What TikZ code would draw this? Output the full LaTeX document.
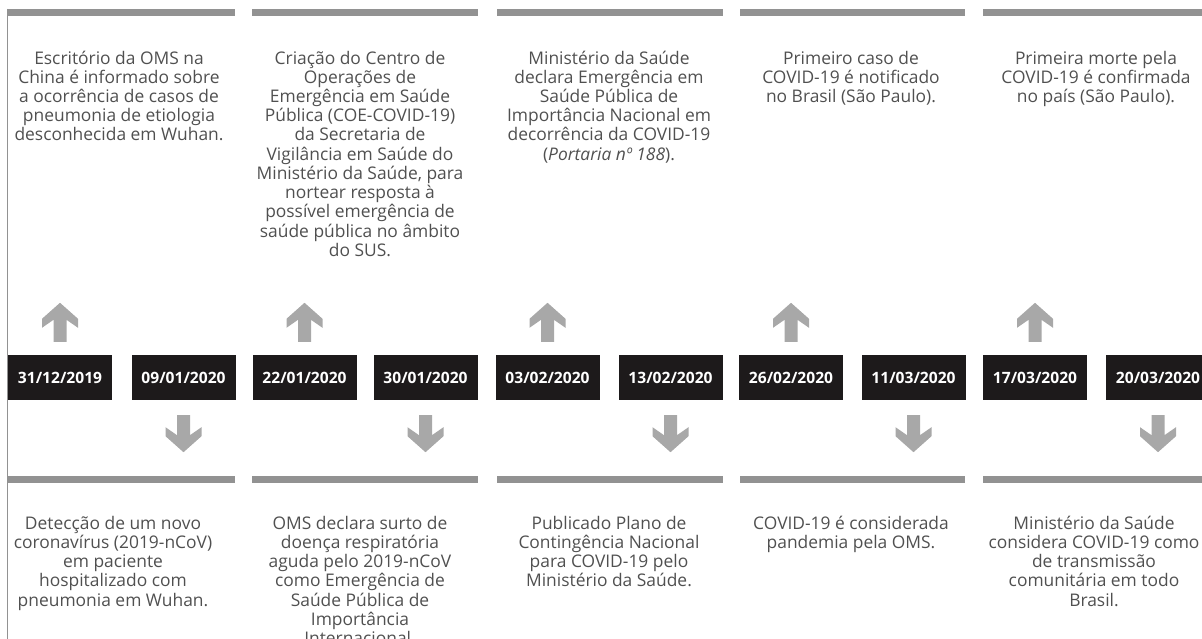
\documentclass[tikz,border=0pt]{standalone}
\usepackage{fontspec}
\setmainfont{Open Sans}

\definecolor{boxblack}{RGB}{29,26,27}
\definecolor{bargray}{RGB}{146,146,146}
\definecolor{arrgray}{RGB}{168,168,168}
\definecolor{txtgray}{RGB}{80,80,80}

\newcommand{\fstrut}{\rule{0pt}{14pt}}

\tikzset{
  datebox/.style={fill=boxblack, text=white, minimum width=104pt, minimum height=45pt, inner sep=0pt, font=\fontsize{15.6}{18}\selectfont\bfseries},
  evtext/.style={align=center, text=txtgray, inner sep=0pt, anchor=north, font=\fontsize{17.4}{19.2}\selectfont},
  bar/.style={fill=bargray},
  uparr/.pic={\fill[arrgray] (0,0) -- (18,16) -- (18,25) -- (6.5,17) -- (6.5,39) -- (-6.5,39) -- (-6.5,17) -- (-18,25) -- (-18,16) -- cycle;},
  dnarr/.pic={\fill[arrgray] (0,0) -- (18,-16) -- (18,-25) -- (6.5,-17) -- (6.5,-37) -- (-6.5,-37) -- (-6.5,-17) -- (-18,-25) -- (-18,-16) -- cycle;}
}

\begin{document}
\begin{tikzpicture}[x=1pt, y=-1pt]
\useasboundingbox (0,0) rectangle (1202,639);
\clip (0,0) rectangle (1202,639);

% frame
\draw[bargray, line width=1.5pt] (7.5,9) -- (7.5,639);
\fill[bar] (7,9) rectangle (235,16);
\fill[bar] (252,9) rectangle (478,16);
\fill[bar] (497,9) rectangle (723,16);
\fill[bar] (740,9) rectangle (965,16);
\fill[bar] (983,9) rectangle (1202,16);

\fill[bar] (7,476) rectangle (235,483);
\fill[bar] (252,476) rectangle (478,483);
\fill[bar] (497,476) rectangle (723,483);
\fill[bar] (740,476) rectangle (965,483);
\fill[bar] (983,476) rectangle (1202,483);

% dates
\node[datebox] (d1) at (60,377.5) {31/12/2019};
\node[datebox] (d2) at (183.5,377.5) {09/01/2020};
\node[datebox] (d3) at (304.5,377.5) {22/01/2020};
\node[datebox] (d4) at (425.5,377.5) {30/01/2020};
\node[datebox] (d5) at (547.5,377.5) {03/02/2020};
\node[datebox] (d6) at (670.5,377.5) {13/02/2020};
\node[datebox] (d7) at (791,377.5) {26/02/2020};
\node[datebox] (d8) at (913.5,377.5) {11/03/2020};
\node[datebox] (d9) at (1035,377.5) {17/03/2020};
\node[datebox] (d10) at (1158,377.5) {20/03/2020};

% arrows
\pic at ([yshift=52pt]d1.north) {uparr};
\pic at ([yshift=52pt]d3.north) {uparr};
\pic at ([yshift=52pt]d5.north) {uparr};
\pic at ([yshift=52pt]d7.north) {uparr};
\pic at ([yshift=52pt]d9.north) {uparr};
\pic at ([yshift=-52pt]d2.south) {dnarr};
\pic at ([yshift=-52pt]d4.south) {dnarr};
\pic at ([yshift=-52pt]d6.south) {dnarr};
\pic at ([yshift=-52pt]d8.south) {dnarr};
\pic at ([yshift=-52pt]d10.south) {dnarr};

% upper texts
\node[evtext] (t1) at (119,50) {\fstrut Escritório da OMS na\\China é informado sobre\\a ocorrência de casos de\\pneumonia de etiologia\\desconhecida em Wuhan.};
\node[evtext] (t3) at (360,50) {\fstrut Criação do Centro de\\Operações de\\Emergência em Saúde\\Pública (COE-COVID-19)\\da Secretaria de\\Vigilância em Saúde do\\Ministério da Saúde, para\\nortear resposta à\\possível emergência de\\saúde pública no âmbito\\do SUS.};
\node[evtext] (t5) at (609,50) {\fstrut Ministério da Saúde\\declara Emergência em\\Saúde Pública de\\Importância Nacional em\\decorrência da COVID-19\\(\textit{Portaria nº 188}).};
\node[evtext] (t7) at (851,50) {\fstrut Primeiro caso de\\COVID-19 é notificado\\no Brasil (São Paulo).};
\node[evtext] (t9) at (1096,50) {\fstrut Primeira morte pela\\COVID-19 é confirmada\\no país (São Paulo).};

% lower texts
\node[evtext] (t2) at (113,515) {\fstrut Detecção de um novo\\coronavírus (2019-nCoV)\\em paciente\\hospitalizado com\\pneumonia em Wuhan.};
\node[evtext] (t4) at (360,515) {\fstrut OMS declara surto de\\doença respiratória\\aguda pelo 2019-nCoV\\como Emergência de\\Saúde Pública de\\Importância\\Internacional.};
\node[evtext] (t6) at (609,515) {\fstrut Publicado Plano de\\Contingência Nacional\\para COVID-19 pelo\\Ministério da Saúde.};
\node[evtext] (t8) at (851,515) {\fstrut COVID-19 é considerada\\pandemia pela OMS.};
\node[evtext] (t10) at (1094,515) {\fstrut Ministério da Saúde\\considera COVID-19 como\\de transmissão\\comunitária em todo\\Brasil.};
\end{tikzpicture}
\end{document}
